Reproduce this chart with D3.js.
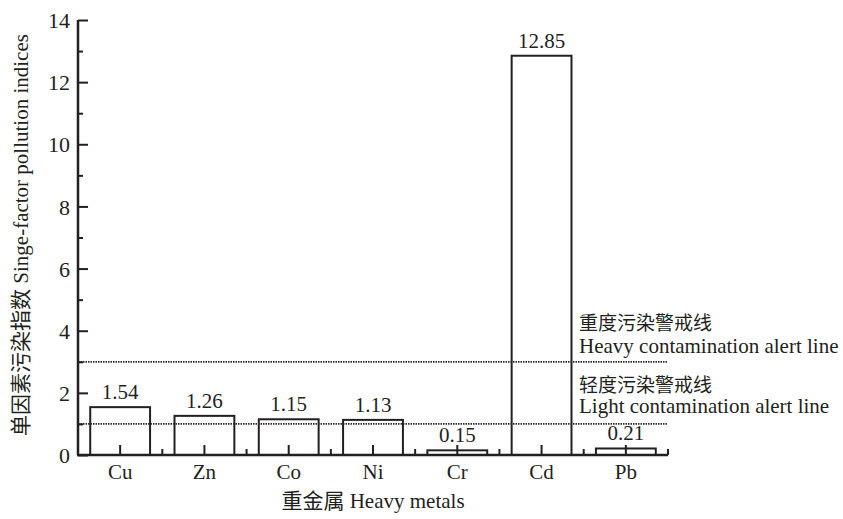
<!DOCTYPE html>
<meta charset="utf-8">
<html>
<head>
  <style>
    body { margin: 0; background: #fff; }
    text { font-family: "Liberation Serif", "Noto Sans CJK SC", serif; fill: #231f20; }
  </style>
</head>
<body>
<script src="https://d3js.org/d3.v7.min.js"></script>
<script>
// data
var metals = ["Cu", "Zn", "Co", "Ni", "Cr", "Cd", "Pb"];
var indices = [1.54, 1.26, 1.15, 1.13, 0.15, 12.85, 0.21];
var yTicks = [0, 2, 4, 6, 8, 10, 12, 14];
var alertLevels = [3, 1];
var alertCn = ["重度污染警戒线", "轻度污染警戒线"];
var alertEn = ["Heavy contamination alert line", "Light contamination alert line"];

var width = 843, height = 519;
var margin = {left: 78, right: 175, top: 20, bottom: 64};

var svg = d3.select("body").append("svg")
    .attr("width", width)
    .attr("height", height);

var x = d3.scaleBand()
    .domain(metals)
    .range([margin.left, width - margin.right])
    .paddingInner(0.29)
    .paddingOuter(0.145);

var y = d3.scaleLinear()
    .domain([0, 14])
    .range([height - margin.bottom, margin.top]);

var step = x.step();
var x0 = margin.left, x1 = width - margin.right;

// bars
svg.append("g").selectAll("rect")
    .data(indices)
  .enter().append("rect")
    .attr("x", function(d, i){ return x(metals[i]); })
    .attr("y", function(d){ return y(d); })
    .attr("width", x.bandwidth())
    .attr("height", function(d){ return y(0) - y(d); })
    .style("fill", "none")
    .style("stroke", "#231f20")
    .style("stroke-width", 2);

// alert lines (drawn over the bars)
svg.append("g").selectAll("line")
    .data(alertLevels)
  .enter().append("line")
    .attr("x1", x0).attr("x2", x1)
    .attr("y1", function(d){ return y(d); })
    .attr("y2", function(d){ return y(d); })
    .style("stroke", "#2a2a2a")
    .style("stroke-width", 1.8)
    .style("stroke-dasharray", "1.5,1");

// value labels
svg.append("g").selectAll("text")
    .data(indices)
  .enter().append("text")
    .attr("x", function(d, i){ return x(metals[i]) + x.bandwidth() / 2; })
    .attr("y", function(d){ return y(d) - 8; })
    .attr("text-anchor", "middle")
    .style("font-size", "21px")
    .text(function(d){ return d.toFixed(2); });

// y axis
var yAxis = d3.axisRight(y).tickValues(yTicks).tickSize(10).tickFormat(d3.format("d"));
var gy = svg.append("g").attr("transform", "translate(" + x0 + ",0)").call(yAxis);
gy.select(".domain").remove();
gy.selectAll(".tick line").style("stroke", "#231f20").style("stroke-width", 2);
gy.selectAll(".tick text").attr("x", -8).attr("text-anchor", "end").attr("dy", "0.35em")
    .style("font-size", "22px").style("fill", "#231f20")
    .style("font-family", "'Liberation Serif', serif");
// minor y ticks
var gym = svg.append("g").attr("transform", "translate(" + x0 + ",0)")
    .call(d3.axisRight(y).tickValues(d3.range(1, 14, 2)).tickSize(5).tickFormat(""));
gym.select(".domain").remove();
gym.selectAll(".tick line").style("stroke", "#231f20").style("stroke-width", 2);

// x axis
var xAxis = d3.axisTop(x).tickSize(10).tickFormat("");
var gx = svg.append("g").attr("transform", "translate(0," + y(0) + ")").call(xAxis);
gx.select(".domain").remove();
gx.selectAll(".tick line").style("stroke", "#231f20").style("stroke-width", 2);
// minor x ticks at category boundaries
svg.append("g").selectAll("line")
    .data(d3.range(metals.length + 1))
  .enter().append("line")
    .attr("x1", function(i){ return x0 + i * step; })
    .attr("x2", function(i){ return x0 + i * step; })
    .attr("y1", y(0)).attr("y2", y(0) - 6)
    .style("stroke", "#231f20").style("stroke-width", 2);
svg.append("g").selectAll("text")
    .data(metals)
  .enter().append("text")
    .attr("x", function(d){ return x(d) + x.bandwidth() / 2; })
    .attr("y", y(0) + 24)
    .attr("text-anchor", "middle")
    .style("font-size", "21px")
    .text(function(d){ return d; });

// axis lines
svg.append("line")
    .attr("x1", x0).attr("x2", x0).attr("y1", y(0)).attr("y2", y(14))
    .style("stroke", "#231f20").style("stroke-width", 2.5);
svg.append("line")
    .attr("x1", x0 - 1).attr("x2", x1).attr("y1", y(0)).attr("y2", y(0))
    .style("stroke", "#231f20").style("stroke-width", 2.5);

// alert labels
var lab = svg.append("g").selectAll("g")
    .data(alertLevels)
  .enter().append("g");
lab.append("text")
    .attr("x", 579)
    .attr("y", function(d){ return y(d) - 32; })
    .style("font-size", "19px")
    .text(function(d, i){ return alertCn[i]; });
lab.append("text")
    .attr("x", 579)
    .attr("y", function(d, i){ return y(d) - (i == 0 ? 9 : 11); })
    .style("font-size", "21px")
    .text(function(d, i){ return alertEn[i]; });

// axis titles
svg.append("text")
    .attr("x", (x0 + x1) / 2)
    .attr("y", 508)
    .attr("text-anchor", "middle")
    .style("font-size", "21px")
    .text("重金属 Heavy metals");

svg.append("text")
    .attr("transform", "translate(28," + 235 + ") rotate(-90)")
    .attr("text-anchor", "middle")
    .style("font-size", "21px")
    .text("单因素污染指数 Singe-factor pollution indices");
</script>
</body>
</html>
